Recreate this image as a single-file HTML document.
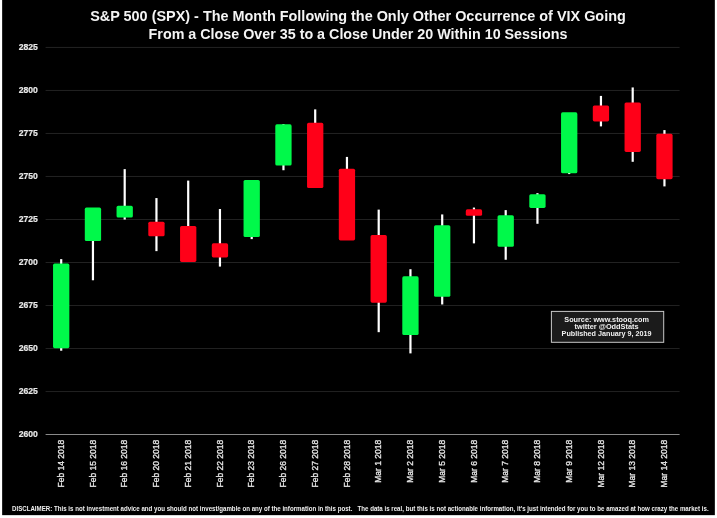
<!DOCTYPE html>
<html lang="en"><head><meta charset="utf-8"><title>S&amp;P 500 (SPX) chart</title>
<style>html,body{margin:0;padding:0;background:#fff;}body{width:717px;height:518px;overflow:hidden;}svg{display:block;}text{font-family:"Liberation Sans", Arial, Helvetica, sans-serif;}</style></head><body>
<svg width="717" height="518" viewBox="0 0 717 518">
<rect x="0" y="0" width="717" height="518" fill="#fff"/>
<rect x="2.15" y="0" width="712.7" height="515.15" fill="#000"/>
<g fill="#f4f4f4" font-weight="bold" font-size="13.8px">
<text x="90.2" y="20.7" textLength="535.6" lengthAdjust="spacingAndGlyphs">S&amp;P 500 (SPX) - The Month Following the Only Other Occurrence of VIX Going</text>
<text x="148.6" y="38.6" textLength="418.8" lengthAdjust="spacingAndGlyphs">From a Close Over 35 to a Close Under 20 Within 10 Sessions</text>
</g>
<g stroke="#222222" stroke-width="1">
<line x1="45.6" x2="679.6" y1="391.54" y2="391.54"/>
<line x1="45.6" x2="679.6" y1="348.53" y2="348.53"/>
<line x1="45.6" x2="679.6" y1="305.52" y2="305.52"/>
<line x1="45.6" x2="679.6" y1="262.51" y2="262.51"/>
<line x1="45.6" x2="679.6" y1="219.49" y2="219.49"/>
<line x1="45.6" x2="679.6" y1="176.48" y2="176.48"/>
<line x1="45.6" x2="679.6" y1="133.47" y2="133.47"/>
<line x1="45.6" x2="679.6" y1="90.46" y2="90.46"/>
<line x1="45.6" x2="679.6" y1="47.45" y2="47.45"/>
</g>
<line x1="45.6" x2="679.6" y1="434.50" y2="434.50" stroke="#8a8a8a" stroke-width="1"/>
<g fill="#e8e8e8" stroke="#e8e8e8" stroke-width="0.2" font-weight="bold" font-size="8.6px" text-anchor="end">
<text x="37.9" y="436.90">2600</text>
<text x="37.9" y="393.89">2625</text>
<text x="37.9" y="350.88">2650</text>
<text x="37.9" y="307.87">2675</text>
<text x="37.9" y="264.86">2700</text>
<text x="37.9" y="221.84">2725</text>
<text x="37.9" y="178.83">2750</text>
<text x="37.9" y="135.82">2775</text>
<text x="37.9" y="92.81">2800</text>
<text x="37.9" y="49.80">2825</text>
</g>
<g fill="#e8e8e8" stroke="#e8e8e8" stroke-width="0.3" font-size="8.9px" text-anchor="end">
<text transform="translate(63.75,439.8) rotate(-90) scale(0.955,1)">Feb 14 2018</text>
<text transform="translate(95.50,439.8) rotate(-90) scale(0.955,1)">Feb 15 2018</text>
<text transform="translate(127.25,439.8) rotate(-90) scale(0.955,1)">Feb 16 2018</text>
<text transform="translate(159.00,439.8) rotate(-90) scale(0.955,1)">Feb 20 2018</text>
<text transform="translate(190.75,439.8) rotate(-90) scale(0.955,1)">Feb 21 2018</text>
<text transform="translate(222.50,439.8) rotate(-90) scale(0.955,1)">Feb 22 2018</text>
<text transform="translate(254.25,439.8) rotate(-90) scale(0.955,1)">Feb 23 2018</text>
<text transform="translate(286.00,439.8) rotate(-90) scale(0.955,1)">Feb 26 2018</text>
<text transform="translate(317.75,439.8) rotate(-90) scale(0.955,1)">Feb 27 2018</text>
<text transform="translate(349.50,439.8) rotate(-90) scale(0.955,1)">Feb 28 2018</text>
<text transform="translate(381.25,439.8) rotate(-90) scale(0.955,1)">Mar 1 2018</text>
<text transform="translate(413.00,439.8) rotate(-90) scale(0.955,1)">Mar 2 2018</text>
<text transform="translate(444.75,439.8) rotate(-90) scale(0.955,1)">Mar 5 2018</text>
<text transform="translate(476.50,439.8) rotate(-90) scale(0.955,1)">Mar 6 2018</text>
<text transform="translate(508.25,439.8) rotate(-90) scale(0.955,1)">Mar 7 2018</text>
<text transform="translate(540.00,439.8) rotate(-90) scale(0.955,1)">Mar 8 2018</text>
<text transform="translate(571.75,439.8) rotate(-90) scale(0.955,1)">Mar 9 2018</text>
<text transform="translate(603.50,439.8) rotate(-90) scale(0.955,1)">Mar 12 2018</text>
<text transform="translate(635.25,439.8) rotate(-90) scale(0.955,1)">Mar 13 2018</text>
<text transform="translate(667.00,439.8) rotate(-90) scale(0.955,1)">Mar 14 2018</text>
</g>
<g>
<line x1="61.20" x2="61.20" y1="259.14" y2="350.72" stroke="#fff" stroke-width="2.2"/>
<rect x="53.05" y="263.61" width="16.30" height="84.58" rx="1.6" ry="1.6" fill="#00f94a"/>
<line x1="92.95" x2="92.95" y1="208.54" y2="280.27" stroke="#fff" stroke-width="2.2"/>
<rect x="84.80" y="207.58" width="16.30" height="33.52" rx="1.6" ry="1.6" fill="#00f94a"/>
<line x1="124.70" x2="124.70" y1="169.13" y2="219.56" stroke="#fff" stroke-width="2.2"/>
<rect x="116.55" y="205.82" width="16.30" height="11.74" rx="1.6" ry="1.6" fill="#00f94a"/>
<line x1="156.45" x2="156.45" y1="198.07" y2="251.13" stroke="#fff" stroke-width="2.2"/>
<rect x="148.30" y="221.70" width="16.30" height="14.58" rx="1.6" ry="1.6" fill="#ff0018"/>
<line x1="188.20" x2="188.20" y1="180.60" y2="260.54" stroke="#fff" stroke-width="2.2"/>
<rect x="180.05" y="225.93" width="16.30" height="36.03" rx="1.6" ry="1.6" fill="#ff0018"/>
<line x1="219.95" x2="219.95" y1="208.97" y2="266.59" stroke="#fff" stroke-width="2.2"/>
<rect x="211.80" y="243.33" width="16.30" height="14.11" rx="1.6" ry="1.6" fill="#ff0018"/>
<line x1="251.70" x2="251.70" y1="180.59" y2="239.12" stroke="#fff" stroke-width="2.2"/>
<rect x="243.55" y="179.88" width="16.30" height="57.19" rx="1.6" ry="1.6" fill="#00f94a"/>
<line x1="283.45" x2="283.45" y1="124.02" y2="170.23" stroke="#fff" stroke-width="2.2"/>
<rect x="275.30" y="124.31" width="16.30" height="41.25" rx="1.6" ry="1.6" fill="#00f94a"/>
<line x1="315.20" x2="315.20" y1="109.38" y2="186.68" stroke="#fff" stroke-width="2.2"/>
<rect x="307.05" y="122.85" width="16.30" height="65.23" rx="1.6" ry="1.6" fill="#ff0018"/>
<line x1="346.95" x2="346.95" y1="156.91" y2="239.46" stroke="#fff" stroke-width="2.2"/>
<rect x="338.80" y="168.73" width="16.30" height="71.73" rx="1.6" ry="1.6" fill="#ff0018"/>
<line x1="378.70" x2="378.70" y1="209.61" y2="332.18" stroke="#fff" stroke-width="2.2"/>
<rect x="370.55" y="235.07" width="16.30" height="67.60" rx="1.6" ry="1.6" fill="#ff0018"/>
<line x1="410.45" x2="410.45" y1="269.21" y2="353.39" stroke="#fff" stroke-width="2.2"/>
<rect x="402.30" y="276.31" width="16.30" height="58.67" rx="1.6" ry="1.6" fill="#00f94a"/>
<line x1="442.20" x2="442.20" y1="214.43" y2="304.48" stroke="#fff" stroke-width="2.2"/>
<rect x="434.05" y="225.23" width="16.30" height="71.61" rx="1.6" ry="1.6" fill="#00f94a"/>
<line x1="473.95" x2="473.95" y1="207.56" y2="243.38" stroke="#fff" stroke-width="2.2"/>
<rect x="465.80" y="209.33" width="16.30" height="6.54" rx="1.6" ry="1.6" fill="#ff0018"/>
<line x1="505.70" x2="505.70" y1="210.11" y2="259.76" stroke="#fff" stroke-width="2.2"/>
<rect x="497.55" y="215.15" width="16.30" height="31.59" rx="1.6" ry="1.6" fill="#00f94a"/>
<line x1="537.45" x2="537.45" y1="193.16" y2="223.79" stroke="#fff" stroke-width="2.2"/>
<rect x="529.30" y="194.21" width="16.30" height="13.70" rx="1.6" ry="1.6" fill="#00f94a"/>
<line x1="569.20" x2="569.20" y1="113.82" y2="174.08" stroke="#fff" stroke-width="2.2"/>
<rect x="561.05" y="112.32" width="16.30" height="60.91" rx="1.6" ry="1.6" fill="#00f94a"/>
<line x1="600.95" x2="600.95" y1="95.91" y2="126.39" stroke="#fff" stroke-width="2.2"/>
<rect x="592.80" y="105.49" width="16.30" height="15.94" rx="1.6" ry="1.6" fill="#ff0018"/>
<line x1="632.70" x2="632.70" y1="87.44" y2="161.80" stroke="#fff" stroke-width="2.2"/>
<rect x="624.55" y="102.44" width="16.30" height="49.45" rx="1.6" ry="1.6" fill="#ff0018"/>
<line x1="664.45" x2="664.45" y1="130.09" y2="186.40" stroke="#fff" stroke-width="2.2"/>
<rect x="656.30" y="133.84" width="16.30" height="45.29" rx="1.6" ry="1.6" fill="#ff0018"/>
</g>
<rect x="551.4" y="311.4" width="112.3" height="30.9" fill="#1b1b1b" stroke="#c8c8c8" stroke-width="1"/>
<g fill="#f0f0f0" font-weight="bold" font-size="7.3px" text-anchor="middle">
<text x="606.6" y="321.65" textLength="84.6" lengthAdjust="spacingAndGlyphs">Source: www.stooq.com</text>
<text x="606.6" y="329" textLength="64" lengthAdjust="spacingAndGlyphs">twitter @OddStats</text>
<text x="606.6" y="336.1" textLength="90" lengthAdjust="spacingAndGlyphs">Published January 9, 2019</text>
</g>
<text x="12" y="510.9" fill="#f0f0f0" font-weight="bold" font-size="6.9px" xml:space="preserve" textLength="696.6" lengthAdjust="spacingAndGlyphs">DISCLAIMER: This is not investment advice and you should not invest/gamble on any of the information in this post.   The data is real, but this is not actionable information, it's just intended for you to be amazed at how crazy the market is.</text>
</svg></body></html>
